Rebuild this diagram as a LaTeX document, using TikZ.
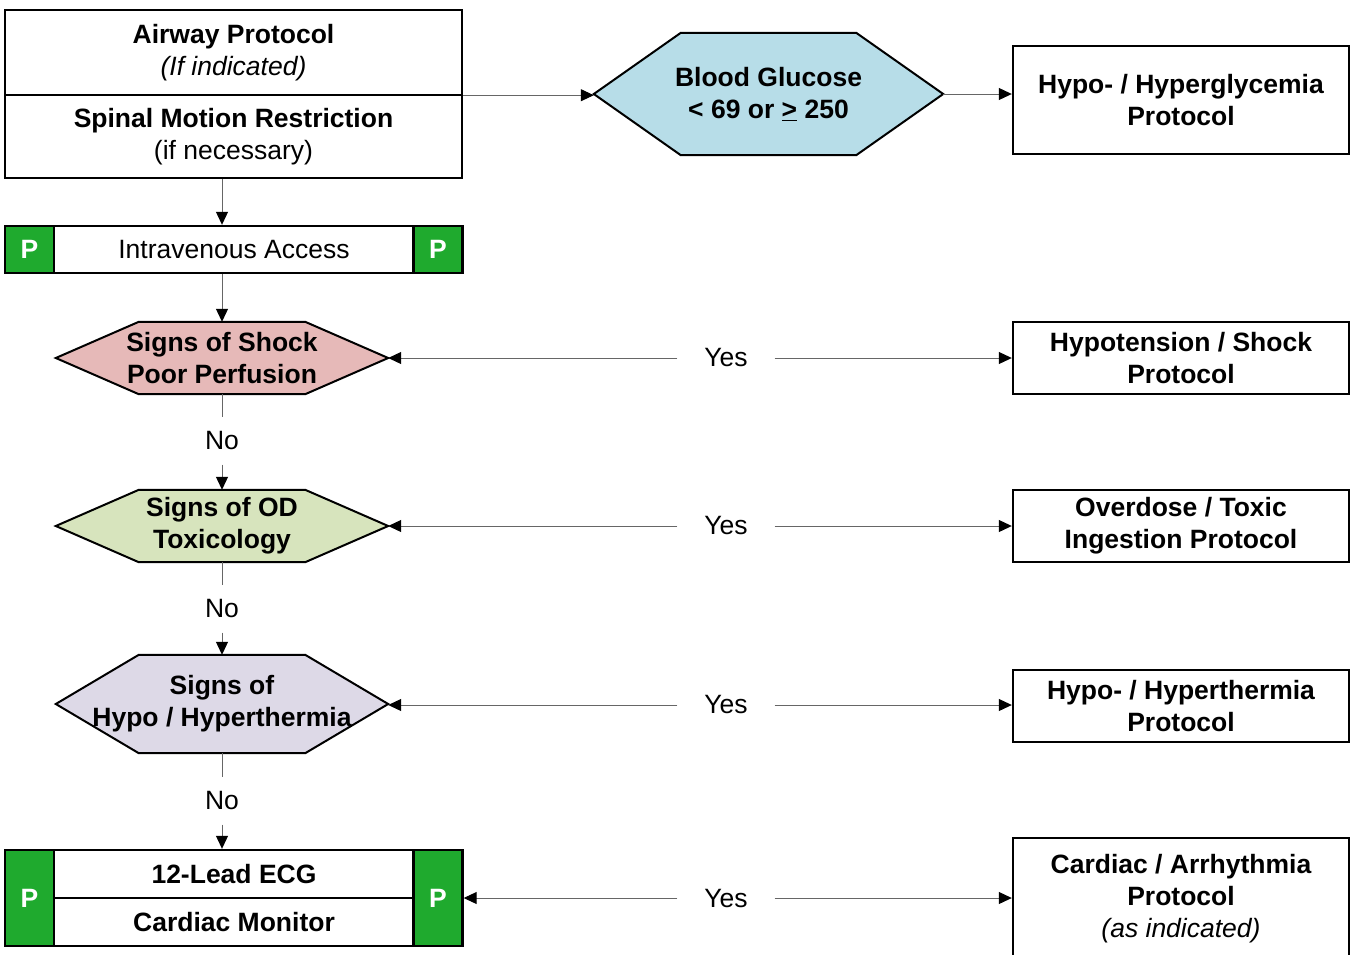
\documentclass[tikz,border=0pt]{standalone}
\usepackage{fontspec}
\setmainfont{Liberation Sans}
\usetikzlibrary{arrows.meta,backgrounds,calc}
\definecolor{pgreen}{HTML}{1FAA2E}
\definecolor{bgblue}{HTML}{B7DDE8}
\definecolor{shockred}{HTML}{E6B9B8}
\definecolor{odgreen}{HTML}{D7E4BD}
\definecolor{thlav}{HTML}{DDD9E7}
\newcommand\hexa[3]{\filldraw[fill=#3, line width=2pt] (#1.west) -- ([xshift=#2]#1.north west) -- ([xshift=-#2]#1.north east) -- (#1.east) -- ([xshift=-#2]#1.south east) -- ([xshift=#2]#1.south west) -- cycle;}
\begin{document}
\begin{tikzpicture}[x=1pt,y=-1pt,
  txt/.style={font=\fontsize{26.5}{32}\selectfont, align=center, inner sep=0pt},
  boxnode/.style={txt, draw, line width=2.4pt, fill=white, font=\fontsize{26.5}{32}\selectfont\bfseries},
  hexnode/.style={txt, font=\fontsize{26.5}{32}\selectfont\bfseries, minimum width=332pt},
  pbox/.style={draw, line width=2.4pt, fill=pgreen, text=white, inner sep=0pt, minimum width=49pt, font=\fontsize{26.5}{32}\selectfont\bfseries},
  lbl/.style={txt, fill=white},
  conn/.style={line width=1pt, draw=black!60},
  arr/.style={conn, -{Triangle[length=13pt,width=12pt,color=black]}}
]
\clip (0,0) rectangle (1350,954);
% left column
\node[boxnode, minimum width=457pt, minimum height=85pt] (airway) at (233.5,52.5) {Airway Protocol\\{\mdseries\itshape (If indicated)}};
\node[boxnode, minimum width=457pt, minimum height=83pt] (spinal) at (233.5,136.5) {Spinal Motion Restriction\\{\mdseries (if necessary)}};
\node[pbox, minimum height=47pt] (ivL) at (29.5,249.5) {P};
\node[boxnode, font=\fontsize{26.5}{32}\selectfont, minimum width=360pt, minimum height=47pt] (iv) at (234,249.5) {Intravenous Access};
\node[pbox, minimum height=47pt] (ivR) at (438,249.5) {P};
\node[hexnode, minimum height=72pt] (shock) at (222,358) {Signs of Shock\\Poor Perfusion};
\node[hexnode, minimum height=72pt] (od) at (222,526) {Signs of OD\\Toxicology};
\node[hexnode, minimum height=98pt] (therm) at (222,704) {Signs of\\Hypo / Hyperthermia};
\node[pbox, minimum height=96pt] (ecgL) at (29.5,898) {P};
\node[boxnode, minimum width=360pt, minimum height=48pt] (ecg1) at (234,874) {12-Lead ECG};
\node[boxnode, minimum width=360pt, minimum height=48pt] (ecg2) at (234,922) {Cardiac Monitor};
\node[pbox, minimum height=96pt] (ecgR) at (438,898) {P};
% middle
\node[hexnode, minimum width=349pt, minimum height=122pt] (bg) at (768.5,94) {Blood Glucose\\{<} 69 or \underline{>} 250};
% right column
\node[boxnode, minimum width=336pt, minimum height=108pt] (glyc) at (1181,100) {Hypo- / Hyperglycemia\\Protocol};
\node[boxnode, minimum width=336pt, minimum height=72pt] (hypot) at (1181,358) {Hypotension / Shock\\Protocol};
\node[boxnode, minimum width=336pt, minimum height=72pt] (odp) at (1181,526) {Overdose / Toxic\\Ingestion Protocol};
\node[boxnode, minimum width=336pt, minimum height=72pt] (therp) at (1181,706) {Hypo- / Hyperthermia\\Protocol};
\node[boxnode, minimum width=336pt, minimum height=122pt] (card) at (1181,899) {Cardiac / Arrhythmia\\Protocol\\{\mdseries\itshape (as indicated)}};
% labels
\node[lbl, minimum height=47pt] (no1) at (222,441) {No};
\node[lbl, minimum height=47pt] (no2) at (222,609) {No};
\node[lbl, minimum height=47pt] (no3) at (222,801) {No};
\node[lbl, minimum width=97pt] (yes1) at (726,358) {Yes};
\node[lbl, minimum width=97pt] (yes2) at (726,526) {Yes};
\node[lbl, minimum width=97pt] (yes3) at (726,705) {Yes};
\node[lbl, minimum width=97pt] (yes4) at (726,898) {Yes};
\begin{scope}[on background layer]
\hexa{bg}{87pt}{bgblue}
\hexa{shock}{83pt}{shockred}
\hexa{od}{83pt}{odgreen}
\hexa{therm}{83pt}{thlav}
\end{scope}
% connectors
\coordinate (split) at ([yshift=1pt]airway.south east);
\draw[arr] (split) -- (split -| bg.west);
\draw[arr] (bg.east) -- (bg.east -| glyc.west);
\draw[arr] (spinal.south -| shock.north) -- (iv.north -| shock.north);
\draw[arr] (iv.south -| shock.north) -- (shock.north);
\draw[conn] (shock.south) -- (no1);
\draw[arr] (no1) -- (od.north);
\draw[conn] (od.south) -- (no2);
\draw[arr] (no2) -- (therm.north);
\draw[conn] (therm.south) -- (no3);
\draw[arr] (no3) -- (ecg1.north -| no3);
\draw[arr] (yes1) -- (shock.east);
\draw[arr] (yes1) -- (yes1 -| hypot.west);
\draw[arr] (yes2) -- (od.east);
\draw[arr] (yes2) -- (yes2 -| odp.west);
\draw[arr] (yes3) -- (yes3 -| therm.east);
\draw[arr] (yes3) -- (yes3 -| therp.west);
\draw[arr] (yes4) -- (yes4 -| ecgR.east);
\draw[arr] (yes4) -- (yes4 -| card.west);
\end{tikzpicture}
\end{document}
